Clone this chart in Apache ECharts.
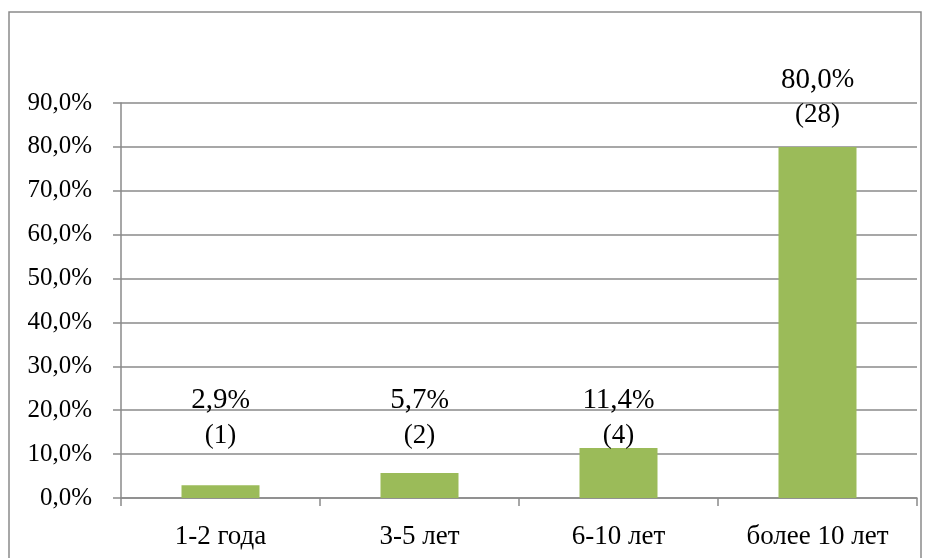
<!DOCTYPE html>
<html>
<head>
<meta charset="utf-8">
<script src="https://cdn.jsdelivr.net/npm/echarts@6/dist/echarts.min.js"></script>
<style>html,body{margin:0;padding:0;background:#fff}#c{width:932px;height:558px}</style>
</head>
<body>
<div id="c"></div>
<script>
const categories = ['1-2 года', '3-5 лет', '6-10 лет', 'более 10 лет'];
const percents = [2.9, 5.7, 11.4, 80.0];
const counts = [1, 2, 4, 28];
const yTicks = { min: 0, max: 90, interval: 10 };

const FONT = '"Liberation Serif", "Times New Roman", serif';
const GRAY = '#8a8a8a';
const fmt = v => v.toFixed(1).replace('.', ',') + '%';

const chart = echarts.init(document.getElementById('c'), null, { renderer: 'canvas' });

function buildOption(offsets) {
  return {
    animation: false,
    backgroundColor: '#fff',
    graphic: [{
      type: 'rect', silent: true,
      shape: { x: 9, y: 12, width: 912, height: 570 },
      style: { fill: 'none', stroke: GRAY, lineWidth: 1.5 }
    }],
    grid: { left: 121, top: 103, right: 15, bottom: 60, containLabel: false },
    xAxis: {
      type: 'category',
      data: categories,
      boundaryGap: true,
      axisLine: { show: true, lineStyle: { color: GRAY, width: 1.5 } },
      axisTick: { show: true, length: 8, interval: 0, alignWithLabel: false, lineStyle: { color: GRAY, width: 1.5 } },
      axisLabel: { color: '#000', fontFamily: FONT, fontSize: 27, margin: 25, interval: 0 }
    },
    yAxis: {
      type: 'value',
      min: yTicks.min, max: yTicks.max, interval: yTicks.interval,
      axisLine: { show: true, lineStyle: { color: GRAY, width: 1.5 } },
      axisTick: { show: true, length: 8, lineStyle: { color: GRAY, width: 1.5 } },
      splitLine: { show: true, lineStyle: { color: GRAY, width: 1.5 } },
      axisLabel: { color: '#000', fontFamily: FONT, fontSize: 25, margin: 29, formatter: fmt }
    },
    series: [{
      type: 'bar',
      barWidth: 78,
      itemStyle: { color: '#9BBB59' },
      data: percents.map((v, i) => ({
        value: v,
        label: {
          show: true,
          position: 'top',
          distance: 14,
          offset: [0, offsets ? offsets[i] : 0],
          formatter: '{v|' + fmt(v).replace('%', '}{p|%}') + '\n{c|(' + counts[i] + ')}',
          color: '#000',
          fontFamily: FONT,
          fontSize: 29,
          lineHeight: 35,
          rich: {
            v: { fontFamily: FONT, fontSize: 29, color: '#000', lineHeight: 35 },
            p: { fontFamily: FONT, fontSize: 27, color: '#000', lineHeight: 35 },
            c: { fontFamily: FONT, fontSize: 27, color: '#000', lineHeight: 35 }
          }
        }
      }))
    }]
  };
}

chart.setOption(buildOption(null));
// place the three small bars' labels on a common level, as in the reference
const levelY = 453;
const offsets = percents.map((v, i) => {
  const top = chart.convertToPixel({ gridIndex: 0 }, [i, v])[1];
  const bottom = top - 14;
  return i < 3 ? (levelY - bottom) : 0;
});
chart.setOption(buildOption(offsets));
</script>
</body>
</html>
